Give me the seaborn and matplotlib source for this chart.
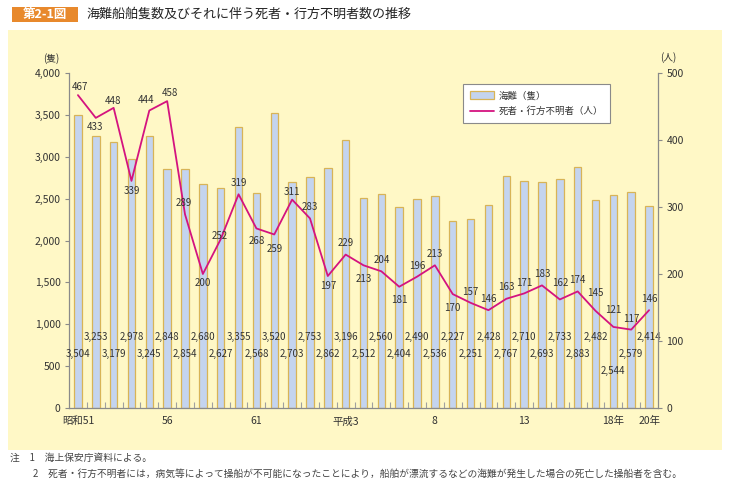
import matplotlib
matplotlib.use("Agg")
import matplotlib.pyplot as plt
import seaborn as sns
import numpy as np
import pandas as pd
from matplotlib.patches import Rectangle, Patch
from matplotlib.lines import Line2D

# ---------------- data ----------------
years = ["昭和51", "52", "53", "54", "55", "56", "57", "58", "59", "60", "61", "62", "63",
         "平成元", "2", "3", "4", "5", "6", "7", "8", "9", "10", "11", "12", "13",
         "14", "15", "16", "17", "18", "19", "20"]
ships = [3504, 3253, 3179, 2978, 3245, 2848, 2854, 2680, 2627, 3355, 2568, 3520, 2703,
         2753, 2862, 3196, 2512, 2560, 2404, 2490, 2536, 2227, 2251, 2428, 2767, 2710,
         2693, 2733, 2883, 2482, 2544, 2579, 2414]
deaths = [467, 433, 448, 339, 444, 458, 289, 200, 252, 319, 268, 259, 311, 283, 197,
          229, 213, 204, 181, 196, 213, 170, 157, 146, 163, 171, 183, 162, 174, 145,
          121, 117, 146]
tick_idx = [0, 5, 10, 15, 20, 25, 30, 32]
tick_labels = ["昭和51", "56", "61", "平成3", "8", "13", "18年", "20年"]
left_ticks = [0, 500, 1000, 1500, 2000, 2500, 3000, 3500, 4000]
right_ticks = [0, 100, 200, 300, 400, 500]

# label placement (styling)
bar_label_row = [0 if i % 2 == 0 else 1 for i in range(len(ships))]
bar_label_row[30] = 2
bar_label_row[31] = 0
bar_label_row[32] = 1
row_y = {1: 848, 0: 645, 2: 442}
# pixel offsets of line labels (dx, dy) relative to point, dy positive = up
line_off = [(2, 8), (-1, -9), (-1, 7), (0, -10), (-3, 11), (3, 8), (-1, 11), (0, -9),
            (-1, 3), (0, 11), (0, -13), (0, -15), (0, 8), (0, 11), (0, -10), (0, 12),
            (0, -14), (0, 11), (0, -13), (0, 11), (0, 11), (0, -14), (0, 11), (0, 11),
            (0, 12), (0, 10), (0, 11), (0, 16), (0, 11), (0, 18), (0, 17), (0, 11), (0, 11)]

# ---------------- style ----------------
sns.set_style("ticks")
plt.rcParams['font.family'] = ['Noto Sans CJK JP', 'DejaVu Sans']

W, H = 732, 484
fig = plt.figure(figsize=(W / 100, H / 100), dpi=100)
fig.patch.set_facecolor("white")

BG = "#FFF8C6"
BAR = "#C4D4EF"
EDGE = "#D8B457"
LINE = "#D4137F"
AX = "#8A8A8A"
TXT = "#333333"

fig.add_artist(Rectangle((8 / W, 1 - 450 / H), (722 - 8) / W, (450 - 30) / H,
                         transform=fig.transFigure, facecolor=BG, edgecolor="none", zorder=-5))

# title
fig.add_artist(Rectangle((12 / W, 1 - 22 / H), (78 - 12) / W, 15 / H,
                         transform=fig.transFigure, facecolor="#E8892C", edgecolor="none"))
fig.text(45 / W, 1 - 14.5 / H, "第2-1図", color="white", fontsize=9, fontweight="bold",
         ha="center", va="center")
fig.text(86 / W, 1 - 14.5 / H, "海難船舶隻数及びそれに伴う死者・行方不明者数の推移",
         color="#222222", fontsize=9.4, ha="left", va="center")

ax = fig.add_axes([69 / W, 1 - 408 / H, (658 - 69) / W, (408 - 73) / H])
ax.set_facecolor("none")

df = pd.DataFrame({"year": years, "ships": ships, "deaths": deaths})
sns.barplot(data=df, x="year", y="ships", ax=ax, color=BAR, edgecolor=EDGE,
            linewidth=0.9, width=0.42, saturation=1)
ax.set_xlim(-0.5, 32.5)
ax.set_ylim(0, 4000)
ax.set_xlabel("")
ax.set_ylabel("")
ax.set_yticks(left_ticks)
ax.set_yticklabels([f"{v:,}" for v in left_ticks], fontsize=7.5, color=TXT)
ax.set_xticks(tick_idx)
ax.set_xticklabels(tick_labels, fontsize=7.5, color=TXT)
ax.tick_params(axis="x", length=0, pad=6)
ax.set_xticks(np.arange(0.5, 32.5, 1), minor=True)
ax.tick_params(axis="x", which="minor", direction="in", length=4, color="#A0A0A0", width=0.8)
ax.tick_params(axis="y", direction="out", length=3, color=AX, width=0.8, pad=3)
for s in ["top", "right"]:
    ax.spines[s].set_visible(False)
for s in ["left", "bottom"]:
    ax.spines[s].set_color(AX)
    ax.spines[s].set_linewidth(0.9)

for i, v in enumerate(ships):
    ax.text(i, row_y[bar_label_row[i]], f"{v:,}", ha="center", va="center",
            fontsize=7, color=TXT, zorder=5)

ax2 = ax.twinx()
ax2.patch.set_visible(False)
sns.lineplot(x=np.arange(len(deaths)), y=deaths, ax=ax2, color=LINE, linewidth=1.3)
ax2.set_ylim(0, 500)
ax2.set_xlim(-0.5, 32.5)
ax2.set_yticks(right_ticks)
ax2.set_yticklabels([str(v) for v in right_ticks], fontsize=7.5, color=TXT)
ax2.tick_params(axis="y", direction="out", length=3, color=AX, width=0.8, pad=3)
for s in ["top", "left", "bottom"]:
    ax2.spines[s].set_visible(False)
ax2.spines["right"].set_color(AX)
ax2.spines["right"].set_linewidth(0.9)

for i, v in enumerate(deaths):
    dx, dy = line_off[i]
    ax2.annotate(str(v), (i, v), xytext=(dx * 0.72, dy * 0.72), textcoords="offset points",
                 ha="center", va="center", fontsize=7, color=TXT)

fig.text(51 / W, 1 - 59 / H, "(隻)", fontsize=7, color=TXT, ha="center", va="center")
fig.text(668 / W, 1 - 58 / H, "(人)", fontsize=7, color=TXT, ha="center", va="center")

handles = [Patch(facecolor=BAR, edgecolor=EDGE, linewidth=0.9),
           Line2D([0], [0], color=LINE, linewidth=1.3)]
leg = fig.legend(handles, ["海難（隻）", "死者・行方不明者（人）"], loc="upper left",
                 bbox_to_anchor=(463 / W, 1 - 84 / H), bbox_transform=fig.transFigure,
                 fontsize=6.8, frameon=True, fancybox=False, handlelength=2.5,
                 handleheight=0.9, borderpad=0.75, labelspacing=0.65, handletextpad=0.5,
                 borderaxespad=0)
leg.get_frame().set_edgecolor("#8A8A8A")
leg.get_frame().set_linewidth(0.8)
leg.get_frame().set_facecolor("white")
leg.get_frame().set_alpha(1)
for t in leg.get_texts():
    t.set_color(TXT)

fig.text(10 / W, 1 - 458 / H, "注　1　海上保安庁資料による。", fontsize=7, color="#444444",
         ha="left", va="center")
fig.text(33 / W, 1 - 474 / H,
         "2　死者・行方不明者には，病気等によって操船が不可能になったことにより，船舶が漂流するなどの海難が発生した場合の死亡した操船者を含む。",
         fontsize=7, color="#444444", ha="left", va="center")

fig.savefig("out.png", dpi=100)
